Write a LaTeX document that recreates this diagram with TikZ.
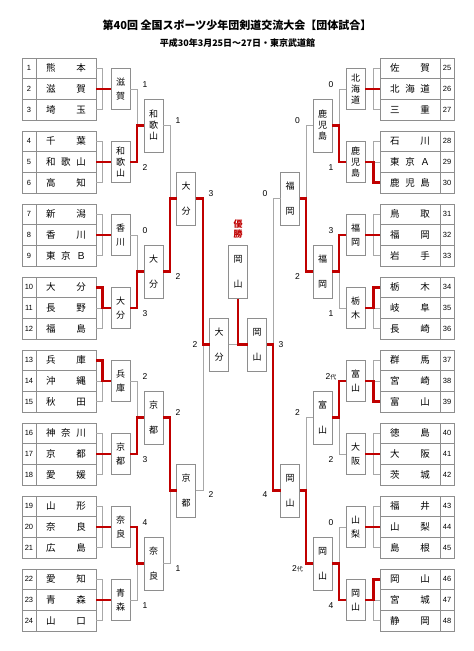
\documentclass[tikz,border=0pt]{standalone}
\usepackage{fontspec}
\setmainfont{Liberation Sans}
\newfontfamily\cjk{Noto Sans CJK JP}
\usetikzlibrary{calc}
\definecolor{lg}{HTML}{A8A8A8}
\definecolor{bd}{HTML}{8E8E8E}
\definecolor{rd}{HTML}{C00000}
\tikzset{
  cellbox/.style={draw=bd, line width=0.9pt, minimum height=20.67pt, inner sep=0pt, outer sep=0pt},
  namecell/.style={cellbox, minimum width=60pt, text width=40pt, font=\cjk\fontsize{9.5}{10}\selectfont},
  numcell/.style={cellbox, minimum width=14pt, font=\fontsize{7.5}{8}\selectfont},
  rbox/.style={draw=bd, line width=0.9pt, minimum width=19pt, inner sep=0pt, outer sep=0pt, align=center, font=\cjk\fontsize{9}{11}\selectfont},
  rone/.style={rbox, minimum height=41pt},
  rn/.style={rbox, minimum height=53pt},
  gl/.style={draw=lg, line width=0.9pt},
  rl/.style={draw=rd, line width=2.6pt},
  score/.style={inner sep=0pt, font=\fontsize{8.5}{9}\selectfont},
}
\newcommand{\dai}{{\cjk\fontsize{6}{6}\selectfont 代}}
\begin{document}
\begin{tikzpicture}[x=1pt,y=-1pt]
\fill[white] (0,0) rectangle (474,651);
\useasboundingbox (0,0) rectangle (474,651);

% titles
\node[font=\cjk\bfseries\fontsize{11}{13}\selectfont] (title) at (237,25) {第40回 全国スポーツ少年団剣道交流大会【団体試合】};
\node[font=\cjk\bfseries\fontsize{9}{11}\selectfont] (sub) at (237.5,43.5) {平成30年3月25日～27日・東京武道館};

% left tables
\foreach \n/\t in {1/{熊\hfill 本},2/{滋\hfill 賀},3/{埼\hfill 玉},4/{千\hfill 葉},5/{和\hfill 歌\hfill 山},6/{高\hfill 知},
  7/{新\hfill 潟},8/{香\hfill 川},9/{東\hfill 京\hfill Ｂ},10/{大\hfill 分},11/{長\hfill 野},12/{福\hfill 島},
  13/{兵\hfill 庫},14/{沖\hfill 縄},15/{秋\hfill 田},16/{神\hfill 奈\hfill 川},17/{京\hfill 都},18/{愛\hfill 媛},
  19/{山\hfill 形},20/{奈\hfill 良},21/{広\hfill 島},22/{愛\hfill 知},23/{青\hfill 森},24/{山\hfill 口}}{
  \pgfmathsetmacro\yy{58+73*floor((\n-1)/3)+10.333+20.667*mod(\n-1,3)}
  \node[numcell] (K\n) at (29,\yy) {\n};
  \node[namecell] (N\n) at (66,\yy) {\t};
}
% right tables
\foreach \n/\t in {25/{佐\hfill 賀},26/{北\hfill 海\hfill 道},27/{三\hfill 重},28/{石\hfill 川},29/{東\hfill 京\hfill Ａ},30/{鹿\hfill 児\hfill 島},
  31/{鳥\hfill 取},32/{福\hfill 岡},33/{岩\hfill 手},34/{栃\hfill 木},35/{岐\hfill 阜},36/{長\hfill 崎},
  37/{群\hfill 馬},38/{宮\hfill 崎},39/{富\hfill 山},40/{徳\hfill 島},41/{大\hfill 阪},42/{茨\hfill 城},
  43/{福\hfill 井},44/{山\hfill 梨},45/{島\hfill 根},46/{岡\hfill 山},47/{宮\hfill 城},48/{静\hfill 岡}}{
  \pgfmathsetmacro\yy{58+73*floor((\n-25)/3)+10.333+20.667*mod(\n-25,3)}
  \node[numcell] (K\n) at (447,\yy) {\n};
  \node[namecell] (N\n) at (410,\yy) {\t};
}

% round 1 boxes
\foreach \g/\t in {0/{滋\\[3pt]賀},1/{和\\歌\\山},2/{香\\[3pt]川},3/{大\\[3pt]分},4/{兵\\[3pt]庫},5/{京\\[3pt]都},6/{奈\\[3pt]良},7/{青\\[3pt]森}}{
  \node[rone] (A\g) at (120.5,{89+73*\g}) {\t};
}
\foreach \g/\t in {0/{北\\海\\道},1/{鹿\\児\\島},2/{福\\[3pt]岡},3/{栃\\[3pt]木},4/{富\\[3pt]山},5/{大\\[3pt]阪},6/{山\\[3pt]梨},7/{岡\\[3pt]山}}{
  \node[rone] (B\g) at (355.5,{89+73*\g}) {\t};
}
% round 2 boxes
\foreach \k/\t in {0/{和\\歌\\山},1/{大\\[14pt]分},2/{京\\[14pt]都},3/{奈\\[14pt]良}}{
  \node[rn] (C\k) at (153.5,{125.5+146*\k}) {\t};
}
\foreach \k/\t in {0/{鹿\\児\\島},1/{福\\[14pt]岡},2/{富\\[14pt]山},3/{岡\\[14pt]山}}{
  \node[rn] (Q\k) at (322.5,{125.5+146*\k}) {\t};
}
% round 3 boxes
\node[rn] (D0) at (186,198.5) {大\\[14pt]分};
\node[rn] (D1) at (186,490.5) {京\\[14pt]都};
\node[rn] (P0) at (290,198.5) {福\\[14pt]岡};
\node[rn] (P1) at (290,490.5) {岡\\[14pt]山};
% round 4 boxes
\node[rn] (E) at (219,344.5) {大\\[14pt]分};
\node[rn] (F) at (257,344.5) {岡\\[14pt]山};
% champion
\node[rn] (W) at (238,272) {岡\\[14pt]山};
\node[align=center, text=rd, inner sep=0pt, font=\cjk\bfseries\fontsize{9}{10.5}\selectfont] (yusho) at (238,229) {優\\勝};

% grey brackets round 1
\foreach \g in {0,...,7}{
  \pgfmathtruncatemacro\ta{3*\g+1}
  \pgfmathtruncatemacro\tb{3*\g+2}
  \pgfmathtruncatemacro\tc{3*\g+3}
  \draw[gl] (N\ta.east) -- ++(6.5,0) |- (N\tc.east);
  \draw[gl] (N\tb.east) -- (A\g.west);
  \pgfmathtruncatemacro\ra{3*\g+25}
  \pgfmathtruncatemacro\rb{3*\g+26}
  \pgfmathtruncatemacro\rc{3*\g+27}
  \draw[gl] (N\ra.west) -- ++(-6.5,0) |- (N\rc.west);
  \draw[gl] (N\rb.west) -- (B\g.east);
}
% grey round 2
\foreach \k in {0,...,3}{
  \pgfmathtruncatemacro\ta{2*\k}
  \pgfmathtruncatemacro\tb{2*\k+1}
  \draw[gl] (A\ta.east) -- ++(7,0) |- (A\tb.east);
  \draw[gl] (C\k.west) -- ++(-7,0);
  \draw[gl] (B\ta.west) -- ++(-7,0) |- (B\tb.west);
  \draw[gl] (Q\k.east) -- ++(7,0);
}
% grey round 3
\draw[gl] (C0.east) -- ++(7,0) |- (C1.east);
\draw[gl] (C2.east) -- ++(7,0) |- (C3.east);
\draw[gl] (D0.west) -- ++(-6.5,0);
\draw[gl] (D1.west) -- ++(-6.5,0);
\draw[gl] (Q0.west) -- ++(-7,0) |- (Q1.west);
\draw[gl] (Q2.west) -- ++(-7,0) |- (Q3.west);
\draw[gl] (P0.east) -- ++(6.5,0);
\draw[gl] (P1.east) -- ++(6.5,0);
% grey round 4
\draw[gl] (D0.east) -- ++(7.5,0) |- (D1.east);
\draw[gl] (E.west) -- ++(-6.5,0);
\draw[gl] (P0.west) -- ++(-7.5,0) |- (P1.west);
\draw[gl] (F.east) -- ++(6.5,0);
% grey final
\draw[gl] (E.east) -- (W.south |- E.east);

% red: round 1 winners left
\draw[rl] (N2.east) -- (A0.west);
\draw[rl] (N5.east) -- (A1.west);
\draw[rl] (N8.east) -- (A2.west);
\draw[rl] (N10.east) -- ++(6.5,0) |- (A3.west);
\draw[rl] (N13.east) -- ++(6.5,0) |- (A4.west);
\draw[rl] (N17.east) -- (A5.west);
\draw[rl] (N20.east) -- (A6.west);
\draw[rl] (N23.east) -- (A7.west);
% red: round 1 winners right
\draw[rl] (N26.west) -- (B0.east);
\draw[rl] (N30.west) -- ++(-6.5,0) |- (B1.east);
\draw[rl] (N32.west) -- (B2.east);
\draw[rl] (N34.west) -- ++(-6.5,0) |- (B3.east);
\draw[rl] (N39.west) -- ++(-6.5,0) |- (B4.east);
\draw[rl] (N41.west) -- (B5.east);
\draw[rl] (N44.west) -- (B6.east);
\draw[rl] (N46.west) -- ++(-6.5,0) |- (B7.east);
% red: round 2
\draw[rl] (A1.east) -- ++(7,0) |- (C0.west);
\draw[rl] (A3.east) -- ++(7,0) |- (C1.west);
\draw[rl] (A5.east) -- ++(7,0) |- (C2.west);
\draw[rl] (A6.east) -- ++(7,0) |- (C3.west);
\draw[rl] (B1.west) -- ++(-7,0) |- (Q0.east);
\draw[rl] (B2.west) -- ++(-7,0) |- (Q1.east);
\draw[rl] (B4.west) -- ++(-7,0) |- (Q2.east);
\draw[rl] (B7.west) -- ++(-7,0) |- (Q3.east);
% red: round 3
\draw[rl] (C1.east) -- ++(7,0) |- (D0.west);
\draw[rl] (C2.east) -- ++(7,0) |- (D1.west);
\draw[rl] (Q1.west) -- ++(-7,0) |- (P0.east);
\draw[rl] (Q3.west) -- ++(-7,0) |- (P1.east);
% red: round 4
\draw[rl] (D0.east) -- ++(7.5,0) |- (E.west);
\draw[rl] (P1.west) -- ++(-7.5,0) |- (F.east);
% red: final
\draw[rl] (W.south) |- (F.west);

% scores round 2
\node[score] (sa0) at ($(A0.east)+(15,-4.5)$) {1};
\node[score] (sa1) at ($(A1.east)+(15,5.5)$) {2};
\node[score] (sa2) at ($(A2.east)+(15,-4.5)$) {0};
\node[score] (sa3) at ($(A3.east)+(15,5.5)$) {3};
\node[score] (sa4) at ($(A4.east)+(15,-4.5)$) {2};
\node[score] (sa5) at ($(A5.east)+(15,5.5)$) {3};
\node[score] (sa6) at ($(A6.east)+(15,-4.5)$) {4};
\node[score] (sa7) at ($(A7.east)+(15,5.5)$) {1};
\node[score] (sb0) at ($(B0.west)+(-15,-4.5)$) {0};
\node[score] (sb1) at ($(B1.west)+(-15,5.5)$) {1};
\node[score] (sb2) at ($(B2.west)+(-15,-4.5)$) {3};
\node[score] (sb3) at ($(B3.west)+(-15,5.5)$) {1};
\node[score] (sb4) at ($(B4.west)+(-15,-4.5)$) {2\dai};
\node[score] (sb5) at ($(B5.west)+(-15,5.5)$) {2};
\node[score] (sb6) at ($(B6.west)+(-15,-4.5)$) {0};
\node[score] (sb7) at ($(B7.west)+(-15,5.5)$) {4};
% scores round 3
\node[score] (sc0) at ($(C0.east)+(15,-4.5)$) {1};
\node[score] (sc1) at ($(C1.east)+(15,5.5)$) {2};
\node[score] (sc2) at ($(C2.east)+(15,-4.5)$) {2};
\node[score] (sc3) at ($(C3.east)+(15,5.5)$) {1};
\node[score] (sq0) at ($(Q0.west)+(-15.5,-4.5)$) {0};
\node[score] (sq1) at ($(Q1.west)+(-15.5,5.5)$) {2};
\node[score] (sq2) at ($(Q2.west)+(-15.5,-4.5)$) {2};
\node[score] (sq3) at ($(Q3.west)+(-15.5,5.5)$) {2\dai};
% scores round 4
\node[score] (sd0) at ($(D0.east)+(15.5,-5)$) {3};
\node[score] (sd1) at ($(D1.east)+(15.5,4.5)$) {2};
\node[score] (sp0) at ($(P0.west)+(-15.5,-5)$) {0};
\node[score] (sp1) at ($(P1.west)+(-15.5,4.5)$) {4};
% final scores
\node[score] (se) at ($(E.west)+(-14.5,0)$) {2};
\node[score] (sf) at ($(F.east)+(14.5,0)$) {3};
\end{tikzpicture}
\end{document}
